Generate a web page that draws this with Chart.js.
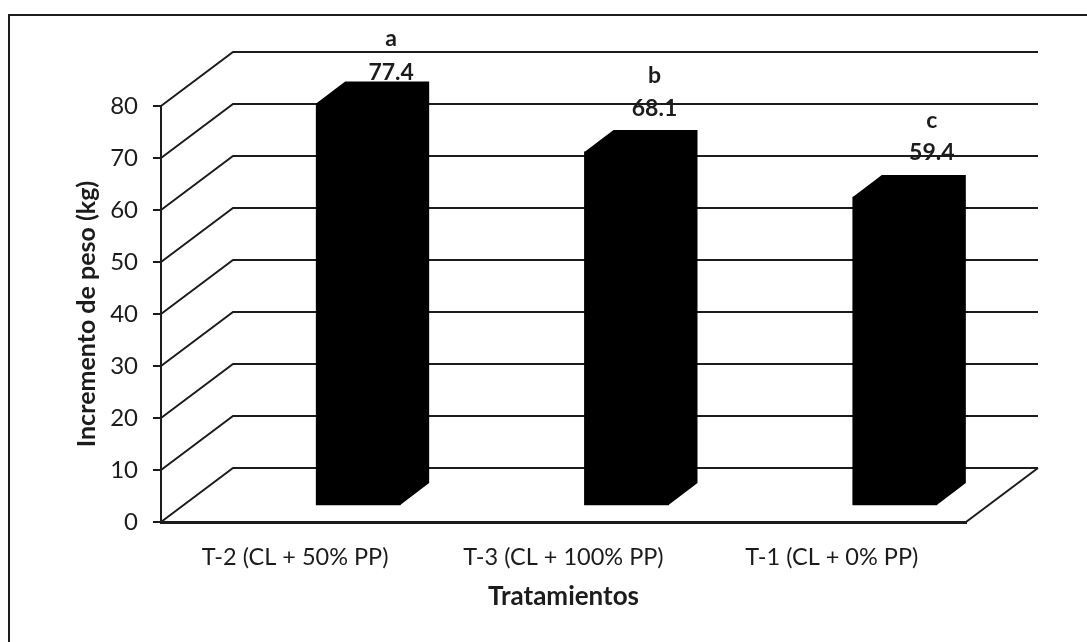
<!DOCTYPE html>
<html>
<head>
<meta charset="utf-8">
<style>
  html, body { margin: 0; padding: 0; background: #fff; }
  #wrap { width: 1087px; height: 642px; }
</style>
<script src="https://cdn.jsdelivr.net/npm/chart.js"></script>
</head>
<body>
<div id="wrap"><canvas id="pesoChart"></canvas></div>
<script>
const categories = ['T-2 (CL + 50% PP)', 'T-3 (CL + 100% PP)', 'T-1 (CL + 0% PP)'];
const incremento = [77.4, 68.1, 59.4];
const letras = ['a', 'b', 'c'];
const yTicks = [0, 10, 20, 30, 40, 50, 60, 70, 80];

const INK = '#1c1c1c';
const FONT = 'Lato, Carlito, sans-serif';

// the fake 3D: back wall and floor depth, bar depth, where the bars stand on the floor
const WALL = { dx: 72, dy: -54 };
const BAR_DEPTH = { dx: 29, dy: -22 };
const BAR_SHIFT = { dx: 63, dy: -16 };
// labels were placed by hand in the original, so each one has its own lift
const labelPos = [
    { dx: 96, valor: -47, letra: -81 },
    { dx: 91, valor: -59, letra: -92 },
    { dx: 100, valor: -61, letra: -93 }
];

const fake3d = {
    id: 'fake3d',
    beforeDatasetsDraw(chart) {
        const { ctx, scales: { x, y } } = chart;
        const left = x.left, right = x.right;

        ctx.save();
        ctx.strokeStyle = INK;
        ctx.lineWidth = 2;

        // frame, only top and left survive in the scan
        ctx.beginPath();
        ctx.moveTo(1087, 15);
        ctx.lineTo(9, 15);
        ctx.lineTo(9, 642);
        ctx.stroke();

        // wall lines
        yTicks.forEach(v => {
            const py = y.getPixelForValue(v);
            ctx.beginPath();
            ctx.moveTo(left, py);
            ctx.lineTo(left + WALL.dx, py + WALL.dy);
            ctx.lineTo(right + WALL.dx, py + WALL.dy);
            ctx.stroke();
        });

        // floor right edge
        const y0 = y.getPixelForValue(0);
        ctx.beginPath();
        ctx.moveTo(right, y0);
        ctx.lineTo(right + WALL.dx, y0 + WALL.dy);
        ctx.stroke();
        ctx.restore();

        ctx.save();
        ctx.translate(BAR_SHIFT.dx, BAR_SHIFT.dy);
    },
    afterDatasetsDraw(chart) {
        const { ctx } = chart;
        const bars = chart.getDatasetMeta(0).data;

        // outline covers the front face too, otherwise a seam shows
        ctx.fillStyle = '#000';
        bars.forEach(bar => {
            const l = bar.x - bar.width / 2, r = bar.x + bar.width / 2;
            ctx.beginPath();
            ctx.moveTo(l, bar.y);
            ctx.lineTo(l + BAR_DEPTH.dx, bar.y + BAR_DEPTH.dy);
            ctx.lineTo(r + BAR_DEPTH.dx, bar.y + BAR_DEPTH.dy);
            ctx.lineTo(r + BAR_DEPTH.dx, bar.base + BAR_DEPTH.dy);
            ctx.lineTo(r, bar.base);
            ctx.lineTo(l, bar.base);
            ctx.closePath();
            ctx.fill();
        });
        ctx.restore();

        ctx.save();
        ctx.fillStyle = INK;
        ctx.font = 'bold 23px ' + FONT;
        ctx.textAlign = 'center';
        ctx.textBaseline = 'middle';
        bars.forEach((bar, i) => {
            const p = labelPos[i];
            ctx.fillText(letras[i], bar.x + p.dx, bar.y + p.letra);
            ctx.fillText(incremento[i].toFixed(1), bar.x + p.dx, bar.y + p.valor);
        });
        ctx.restore();
    }
};

new Chart(document.getElementById('pesoChart').getContext('2d'), {
    type: 'bar',
    data: {
        labels: categories,
        datasets: [{
            data: incremento,
            backgroundColor: '#000',
            barThickness: 84,
            clip: false
        }]
    },
    plugins: [fake3d],
    options: {
        responsive: true,
        maintainAspectRatio: false,
        animation: false,
        layout: { padding: { top: 106, right: 121, left: 0, bottom: 0 } },
        plugins: {
            legend: { display: false },
            tooltip: { enabled: false },
            title: { display: false }
        },
        scales: {
            x: {
                afterFit(scale) { scale.height = 120; },
                grid: { display: false },
                border: { display: true, color: INK, width: 3 },
                ticks: {
                    color: INK,
                    maxRotation: 0,
                    padding: 13,
                    font: { family: FONT, size: 23.5 }
                },
                title: {
                    display: true,
                    text: 'Tratamientos',
                    color: INK,
                    padding: { top: 0, bottom: 30 },
                    font: { family: FONT, size: 26, weight: 'bold' }
                }
            },
            y: {
                min: 0,
                max: 80,
                afterFit(scale) { scale.width = 161; },
                afterBuildTicks(scale) { scale.ticks = yTicks.map(v => ({ value: v })); },
                grid: { drawOnChartArea: false, drawTicks: true, tickLength: 8, color: INK, lineWidth: 2 },
                border: { display: true, color: INK, width: 2 },
                ticks: {
                    color: INK,
                    padding: 15,
                    font: { family: FONT, size: 24 }
                },
                title: {
                    display: true,
                    text: 'Incremento de peso (kg)',
                    color: INK,
                    padding: { top: 72, bottom: 0 },
                    font: { family: FONT, size: 25, weight: 'bold' }
                }
            }
        }
    }
});
</script>
</body>
</html>
